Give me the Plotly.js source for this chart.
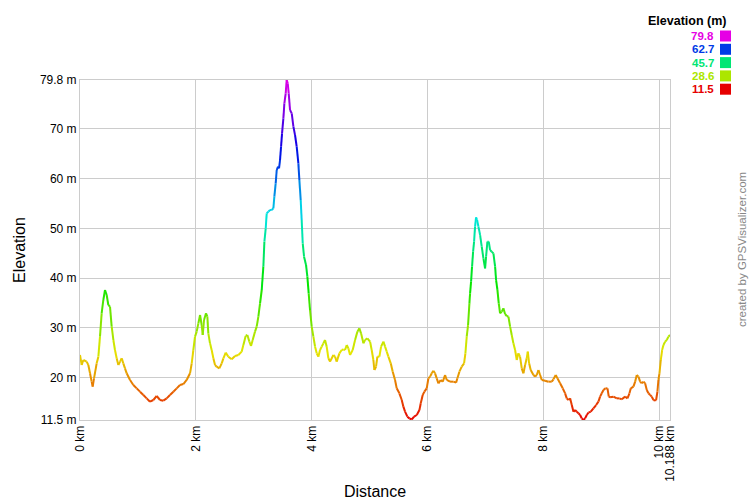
<!DOCTYPE html>
<html>
<head>
<meta charset="utf-8">
<script src="https://cdn.plot.ly/plotly-3.0.1.min.js"></script>
<style>html,body{margin:0;padding:0;background:#fff;}#chart{width:750px;height:500px;}</style>
</head>
<body>
<div id="chart"></div>
<script>
// Distance along the track (km)
const distanceKm = [
0,0.029,0.058,0.115,0.144,0.173,0.201,0.219,0.242,0.288,0.317,0.345,0.374,0.403,0.432,0.461,0.489,0.518,0.547,0.576,
0.604,0.633,0.662,0.691,0.720,0.748,0.777,0.806,0.864,0.921,0.979,1.036,1.094,1.151,1.209,1.267,1.324,1.382,1.439,1.497,
1.554,1.612,1.670,1.727,1.785,1.842,1.900,1.929,1.957,1.986,2.015,2.044,2.073,2.101,2.119,2.142,2.176,2.199,2.216,2.245,
2.274,2.303,2.332,2.360,2.406,2.447,2.476,2.516,2.562,2.619,2.677,2.735,2.792,2.821,2.861,2.890,2.925,2.953,2.982,3.022,
3.051,3.080,3.109,3.138,3.166,3.184,3.207,3.224,3.253,3.282,3.310,3.339,3.356,3.379,3.397,3.420,3.437,3.454,3.472,3.489,
3.512,3.529,3.552,3.569,3.587,3.604,3.627,3.656,3.685,3.713,3.742,3.771,3.788,3.811,3.828,3.846,3.869,3.903,3.926,3.949,
3.972,4.001,4.030,4.059,4.088,4.116,4.145,4.174,4.203,4.231,4.260,4.289,4.318,4.375,4.404,4.433,4.479,4.519,4.548,4.577,
4.606,4.634,4.663,4.709,4.750,4.790,4.824,4.853,4.894,4.922,4.963,5.009,5.037,5.066,5.083,5.112,5.135,5.170,5.199,5.239,
5.268,5.297,5.325,5.366,5.400,5.440,5.469,5.515,5.556,5.584,5.613,5.653,5.688,5.728,5.769,5.815,5.861,5.884,5.918,5.947,
5.987,6.016,6.045,6.074,6.102,6.131,6.160,6.189,6.229,6.264,6.304,6.333,6.390,6.448,6.494,6.517,6.551,6.592,6.632,6.655,
6.678,6.701,6.724,6.736,6.753,6.770,6.788,6.805,6.822,6.839,6.857,6.880,6.909,6.937,6.966,6.995,7.012,7.035,7.058,7.081,
7.110,7.139,7.168,7.185,7.208,7.231,7.254,7.283,7.311,7.340,7.369,7.398,7.427,7.455,7.484,7.513,7.542,7.570,7.599,7.628,
7.657,7.686,7.714,7.732,7.755,7.783,7.830,7.858,7.887,7.916,7.945,7.974,8.031,8.089,8.146,8.175,8.215,8.244,8.290,8.336,
8.377,8.405,8.434,8.463,8.492,8.521,8.549,8.578,8.607,8.636,8.664,8.693,8.722,8.751,8.780,8.820,8.866,8.912,8.952,8.981,
9.010,9.039,9.073,9.108,9.131,9.154,9.211,9.269,9.315,9.355,9.413,9.453,9.488,9.511,9.557,9.586,9.614,9.643,9.672,9.701,
9.730,9.758,9.787,9.816,9.845,9.873,9.902,9.931,9.948,9.971,9.988,10.006,10.029,10.052,10.075,10.104,10.132,10.161,10.188
];
// Elevation (m)
const elevationM = [
24.56,22.55,23.55,23.22,22.55,20.88,19.20,18.20,19.87,22.88,24.22,28.24,32.93,35.61,37.62,36.61,34.60,34.27,30.25,27.57,
25.56,23.89,22.55,23.22,23.89,22.88,21.88,20.88,19.54,18.53,17.86,17.19,16.52,15.85,15.18,15.52,16.32,15.52,15.38,15.85,
16.52,17.19,17.86,18.53,18.73,19.54,20.88,22.88,25.56,28.24,29.25,30.92,32.59,30.58,28.58,31.59,32.93,32.26,28.91,26.90,
25.56,23.89,22.55,22.21,21.88,22.88,23.89,25.03,24.22,23.69,24.36,24.56,25.23,26.57,28.38,28.58,27.24,26.37,27.57,29.25,
30.25,32.26,34.94,37.62,42.30,47.32,50.00,53.02,53.35,53.69,53.69,54.02,56.36,59.04,61.72,62.39,62.06,63.73,66.41,69.09,
72.10,75.11,77.12,79.80,79.13,77.12,73.77,73.10,70.43,68.75,66.41,63.06,59.71,55.69,51.68,46.99,44.31,42.64,40.29,36.95,
33.60,30.25,28.24,26.23,24.89,24.22,25.56,26.23,26.90,27.57,26.23,23.89,23.22,24.56,24.22,23.22,24.89,25.56,25.70,25.56,
26.57,25.90,24.56,25.56,27.57,29.25,29.91,28.91,26.90,27.57,27.91,27.24,25.56,23.55,21.54,22.21,24.22,24.22,26.23,27.24,
26.23,25.23,24.22,22.88,21.21,19.54,17.86,16.86,15.52,14.18,13.17,12.17,11.83,11.60,12.17,12.50,13.51,14.85,16.52,17.19,
17.86,19.87,20.21,20.88,21.41,20.88,19.87,18.87,19.54,19.20,20.54,19.54,19.20,19.20,19.00,19.87,21.21,22.21,22.88,24.89,
28.24,30.58,34.94,36.95,39.29,42.30,45.31,47.32,50.34,52.21,51.68,50.34,48.66,46.32,43.98,41.97,44.31,47.32,47.32,45.65,
45.31,44.98,42.30,39.62,37.62,34.94,32.93,33.26,33.93,32.79,32.39,32.26,30.25,28.58,26.90,25.56,23.55,24.89,24.22,21.88,
20.88,22.55,23.89,25.23,22.88,21.54,20.54,20.21,20.54,21.54,20.54,19.54,19.40,19.20,19.20,19.67,20.54,19.87,18.87,17.86,
16.86,15.85,15.52,15.85,14.51,13.17,13.51,13.17,12.84,12.50,11.83,11.50,11.83,12.50,12.97,13.17,13.84,14.51,15.18,16.19,
16.86,17.53,17.86,17.86,16.19,16.05,16.19,15.85,15.85,15.65,16.19,15.85,16.86,17.86,18.20,19.20,20.54,20.21,19.20,18.87,
19.20,18.87,17.53,16.86,16.52,16.19,15.52,15.38,15.52,17.19,19.54,20.88,23.55,25.56,26.57,27.24,27.57,28.24,28.58
];
// Axis ticks
const xTickVals = [0, 2, 4, 6, 8, 10, 10.188];
const xTickText = ["0 km", "2 km", "4 km", "6 km", "8 km", "10 km", "10.188 km"];
const yTickVals = [11.5, 20, 30, 40, 50, 60, 70, 79.8];
const yTickText = ["11.5 m", "20 m", "30 m", "40 m", "50 m", "60 m", "70 m", "79.8 m"];
// Colour legend
const legendValues = [79.8, 62.7, 45.7, 28.6, 11.5];

const elevMin = 11.5, elevMax = 79.8;
function colorFor(v) {
  const h = 300 * (v - elevMin) / (elevMax - elevMin);
  return "hsl(" + h.toFixed(1) + ",100%,45%)";
}

// Build coloured line segments, grouped by colour
const groups = {};
for (let i = 0; i < distanceKm.length - 1; i++) {
  const mid = (elevationM[i] + elevationM[i + 1]) / 2;
  const key = Math.round(300 * (mid - elevMin) / (elevMax - elevMin));
  if (!groups[key]) groups[key] = {x: [], y: []};
  groups[key].x.push(distanceKm[i], distanceKm[i + 1], null);
  groups[key].y.push(elevationM[i], elevationM[i + 1], null);
}
const traces = Object.keys(groups).map(k => ({
  type: "scatter", mode: "lines",
  x: groups[k].x, y: groups[k].y,
  line: {color: "hsl(" + k + ",100%,45%)", width: 2},
  connectgaps: false, showlegend: false, hoverinfo: "skip"
}));

const FONT = '"Liberation Sans", Arial, Helvetica, sans-serif';
const L = 80, R = 670, T = 80, B = 420;
const px = p => (p - L) / (R - L);
const py = p => (B - p) / (B - T);

const annotations = [
  {text: "<b>Elevation (m)</b>", xref: "paper", yref: "paper", x: px(728), y: py(21),
   xanchor: "right", yanchor: "middle", showarrow: false, borderpad: 0,
   font: {family: FONT, size: 12.5, color: "#000"}},
  {text: "created by GPSVisualizer.com", xref: "paper", yref: "paper", x: px(742), y: py(250),
   xanchor: "center", yanchor: "middle", textangle: -90, showarrow: false,
   font: {family: FONT, size: 11.5, color: "#888"}}
];
const shapes = [];
legendValues.forEach((v, i) => {
  const yc = 36 + i * 13.3;
  annotations.push({text: "<b>" + v.toFixed(1) + "</b>", xref: "paper", yref: "paper",
    x: px(715), y: py(yc), xanchor: "right", yanchor: "middle", showarrow: false, borderpad: 0,
    font: {family: FONT, size: 11.5, color: colorFor(v)}});
  shapes.push({type: "rect", xref: "paper", yref: "paper",
    x0: px(720), x1: px(731), y0: py(yc + 5.5), y1: py(yc - 5.5),
    fillcolor: colorFor(v), line: {width: 0}});
});

const layout = {
  width: 750, height: 500,
  margin: {l: 80, r: 80, t: 80, b: 80, pad: 0},
  paper_bgcolor: "#fff", plot_bgcolor: "#fff",
  font: {family: FONT, size: 12, color: "#000"},
  xaxis: {
    range: [0, 10.188], tickmode: "array", tickvals: xTickVals, ticktext: xTickText,
    tickangle: -90, showgrid: true, gridcolor: "#cccccc", gridwidth: 1,
    showline: true, mirror: true, linecolor: "#cccccc", linewidth: 1, zeroline: false,
    ticks: "", tickfont: {family: FONT, size: 12, color: "#000"},
    title: {text: "Distance", font: {family: FONT, size: 16, color: "#000"}, standoff: 8}
  },
  yaxis: {
    range: [11.5, 79.8], tickmode: "array", tickvals: yTickVals, ticktext: yTickText,
    showgrid: true, gridcolor: "#cccccc", gridwidth: 1,
    showline: true, mirror: true, linecolor: "#cccccc", linewidth: 1, zeroline: false,
    ticks: "", tickfont: {family: FONT, size: 12, color: "#000"},
    title: {text: "Elevation", font: {family: FONT, size: 16, color: "#000"}, standoff: 10}
  },
  annotations: annotations,
  shapes: shapes
};

Plotly.newPlot("chart", traces, layout, {displayModeBar: false, staticPlot: true});
</script>
</body>
</html>
